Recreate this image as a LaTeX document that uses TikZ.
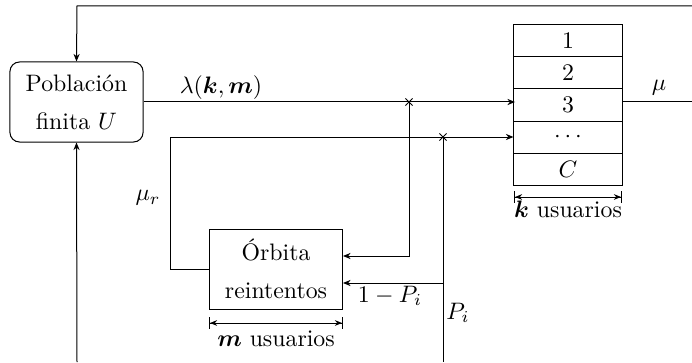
\documentclass[tikz,border=0pt]{standalone}
\usepackage{bm}
\usetikzlibrary{arrows.meta,shapes.misc}
\tikzset{
  boxa/.style={draw, align=center, minimum width=55.9pt, minimum height=33.6pt, inner sep=2pt},
  cell/.style={draw, minimum width=45.4pt, minimum height=13.44pt, inner sep=0pt},
  arr/.style={-{Stealth[length=3.2pt,width=2.6pt]}},
  dim/.style={{Bar[width=5pt]Stealth[length=3pt,width=2.4pt]}-{Stealth[length=3pt,width=2.4pt]Bar[width=5pt]}},
  crossmark/.style={cross out, draw, minimum size=2.6pt, inner sep=0pt},
  lbl/.style={inner sep=0pt}
}
\begin{document}
\begin{tikzpicture}[x=0.42pt,y=-0.42pt,line width=0.42pt]
\useasboundingbox (0,0) rectangle (692,362);
% boxes
\node[boxa, rounded corners=4pt] (pob) at (76.5,102) {Población\\[4pt]finita $U$};
\node[boxa] (orb) at (276,269) {Órbita\\[4pt]reintentos};
\node[cell] (c1) at (568,41) {$1$};
\node[cell] (c2) at (568,73) {$2$};
\node[cell] (c3) at (568,105) {$3$};
\node[cell] (c4) at (568,137) {$\cdots$};
\node[cell] (c5) at (568,169) {$C$};
% coordinates
\coordinate (x1) at (409,102);
\coordinate (x2) at (443,137);
\coordinate (q1) at (515,102);
\coordinate (o1) at (343,256);
\coordinate (o2) at (343,283);
\coordinate (br) at (443,283);
\coordinate (pb) at (443,362);
\coordinate (r1) at (170,269);
\coordinate (mu0) at (622,102);
\coordinate (mu1) at (692,102);
\coordinate (t1) at (692,6);
\coordinate (t0) at (77,6);
\coordinate (b0) at (77,362);
\coordinate (kd0) at (514,197);
\coordinate (kd1) at (622,197);
\coordinate (md0) at (209,323);
\coordinate (md1) at (343,323);
% connectors
\draw[arr] (pob.east) -- (q1);
\draw[arr] (x1) |- (o1);
\draw[arr] (orb.west) -- (r1) |- (c4.west);
\draw (x2) -- (pb);
\draw[arr] (br) -- (o2);
\draw (mu0) -- (mu1);
\draw[arr] (t1) -- (t0) -- (pob.north);
\draw[arr] (b0) -- (pob.south);
\node[crossmark] at (x1) {};
\node[crossmark] at (x2) {};
% dimensions
\draw[dim] (kd0) -- (kd1);
\draw[dim] (md0) -- (md1);
% labels
\node[lbl] (llam) at (221,88) {$\lambda(\bm{k},\bm{m})$};
\node[lbl] (lmu) at (659,88) {$\mu$};
\node[lbl] (lmur) at (148,198) {$\mu_r$};
\node[lbl] (l1p) at (390,296) {$1-P_i$};
\node[lbl] (lpi) at (458,313) {$P_i$};
\node[lbl] (lk) at (568,209) {$\bm{k}$ usuarios};
\node[lbl] (lm) at (276,339) {$\bm{m}$ usuarios};
\end{tikzpicture}
\end{document}
